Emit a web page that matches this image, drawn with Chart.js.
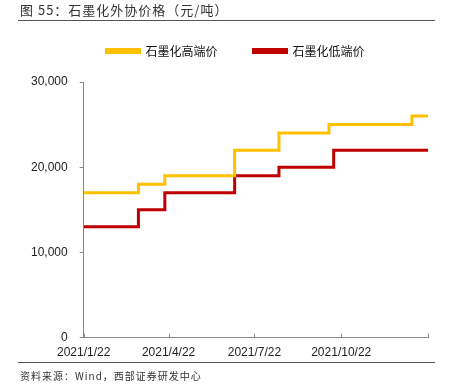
<!DOCTYPE html>
<html>
<head>
<meta charset="utf-8">
<script src="https://cdn.jsdelivr.net/npm/chart.js@4.4.0/dist/chart.umd.min.js"></script>
<style>
  html, body { margin: 0; padding: 0; background: #fff; }
  #wrap { position: relative; width: 457px; height: 391px; overflow: hidden; }
  #title { position: absolute; left: 20px; top: 0px; font: 13px "Noto Sans CJK SC", sans-serif; color: #333; letter-spacing: 1px; white-space: nowrap; }
  #src { position: absolute; left: 20px; top: 368px; font: 10px "Noto Sans CJK SC", sans-serif; color: #333; letter-spacing: 1px; white-space: nowrap; }
  .rule { position: absolute; left: 18px; width: 417px; height: 1px; background: #555; }
  #chartBox { position: absolute; left: 0; top: 0; width: 457px; height: 391px; }
</style>
</head>
<body>
<div id="wrap">
  <div id="chartBox"><canvas id="lineChart"></canvas></div>
  <div id="title">图 55：石墨化外协价格（元/吨）</div>
  <div class="rule" style="top:20px"></div>
  <div class="rule" style="top:362px"></div>
  <div id="src">资料来源：Wind，西部证券研发中心</div>
</div>
<script>
// 价格变动日期（元/吨）
const changeDates = ['2021-01-22', '2021-03-21', '2021-04-18', '2021-07-01', '2021-08-17', '2021-10-09', '2021-10-14', '2022-01-05', '2022-01-22'];
const highPrice = [17000, 18000, 19000, 22000, 24000, 25000, 25000, 26000, 26000];
const lowPrice = [13000, 15000, 17000, 19000, 20000, 20000, 22000, 22000, 22000];

const tickDates = ['2021-01-22', '2021-04-22', '2021-07-22', '2021-10-22', '2022-01-22'];
const tickLabels = ['2021/1/22', '2021/4/22', '2021/7/22', '2021/10/22', ''];
const yTicks = [0, 10000, 20000, 30000];

const startMs = Date.parse(changeDates[0]);
const toDay = (d) => (Date.parse(d) - startMs) / 86400000;
const tickDays = tickDates.map(toDay);

const toPoints = (arr) => arr.map((v, i) => ({ x: toDay(changeDates[i]), y: v }));

// x轴内侧小刻度
const innerTicks = {
  id: 'innerTicks',
  afterDraw(chart) {
    const { ctx, scales: { x }, chartArea } = chart;
    ctx.save();
    ctx.strokeStyle = '#888';
    ctx.lineWidth = 1;
    tickDays.forEach((d) => {
      const px = Math.round(x.getPixelForValue(d)) + 0.5;
      ctx.beginPath();
      ctx.moveTo(px, chartArea.bottom);
      ctx.lineTo(px, chartArea.bottom - 4);
      ctx.stroke();
    });
    ctx.restore();
  },
};

// 图例高度和水平位置微调
const legendFix = {
  id: 'legendFix',
  beforeInit(chart) {
    const fit = chart.legend.fit;
    chart.legend.fit = function () {
      fit.call(this);
      this.height = 73;
    };
  },
  afterLayout(chart) {
    chart.legend.left += 12;
    chart.legend.right += 12;
  },
};

const config = {
  type: 'line',
  data: {
    datasets: [
      {
        label: '石墨化高端价',
        data: toPoints(highPrice),
        borderColor: '#FFC000',
        backgroundColor: '#FFC000',
        borderWidth: 3,
        stepped: 'before',
        pointRadius: 0,
      },
      {
        label: '石墨化低端价',
        data: toPoints(lowPrice),
        borderColor: '#C00000',
        backgroundColor: '#C00000',
        borderWidth: 3,
        stepped: 'before',
        pointRadius: 0,
      },
    ],
  },
  options: {
    responsive: true,
    maintainAspectRatio: false,
    animation: false,
    layout: { padding: { left: 19, right: 29, top: 9, bottom: 23 } },
    plugins: {
      legend: {
        display: true,
        position: 'top',
        labels: {
          boxWidth: 33,
          boxHeight: 3,
          padding: 36,
          color: '#111',
          font: { family: '"Noto Sans CJK SC"', size: 12 },
        },
      },
      tooltip: { enabled: false },
    },
    scales: {
      x: {
        type: 'linear',
        min: 0,
        max: tickDays[tickDays.length - 1],
        afterBuildTicks: (scale) => {
          scale.ticks = tickDays.map((v) => ({ value: v }));
        },
        ticks: {
          autoSkip: false,
          maxRotation: 0,
          padding: 8,
          color: '#222',
          font: { family: '"Liberation Sans", Arial', size: 12 },
          callback: (v, i) => tickLabels[i],
        },
        grid: { drawOnChartArea: false, drawTicks: false },
        border: { color: '#888', width: 1 },
      },
      y: {
        min: 0,
        max: 30000,
        afterBuildTicks: (scale) => {
          scale.ticks = yTicks.map((v) => ({ value: v }));
        },
        ticks: {
          padding: 12,
          color: '#222',
          font: { family: '"Liberation Sans", Arial', size: 12 },
          callback: (v) => v.toLocaleString('en-US'),
        },
        grid: { drawOnChartArea: false, tickLength: 4, color: '#888' },
        border: { color: '#888', width: 1 },
      },
    },
  },
  plugins: [innerTicks, legendFix],
};

new Chart(document.getElementById('lineChart'), config);
</script>
</body>
</html>
